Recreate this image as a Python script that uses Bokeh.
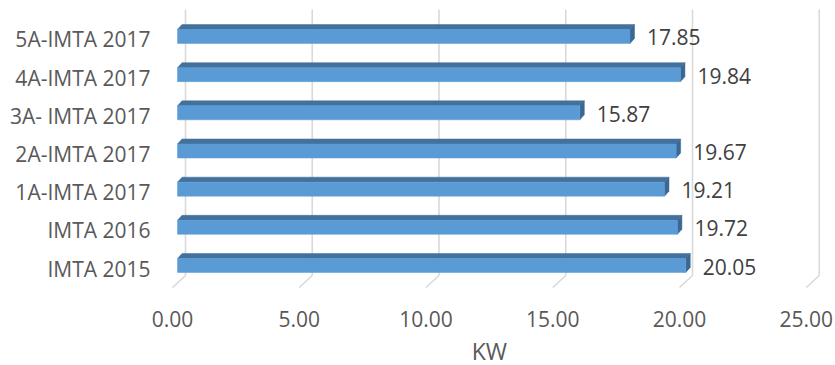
from bokeh.plotting import figure
from bokeh.models import Range1d, ColumnDataSource
from bokeh.core.properties import value
from bokeh.embed import file_html
from bokeh.resources import INLINE

# ---- data ----
categories = ["IMTA 2015", "IMTA 2016", "1A-IMTA 2017", "2A-IMTA 2017",
              "3A- IMTA 2017", "4A-IMTA 2017", "5A-IMTA 2017"]
kw_values = [20.05, 19.72, 19.21, 19.67, 15.87, 19.84, 17.85]
x_ticks = [0, 5, 10, 15, 20, 25]
x_label = "KW"

# ---- geometry / style ----
W, H = 835, 365
XPX = 25.35          # px per kW
YPX = 38.17          # px per category
x0_px = 177          # where 0 sits on the canvas
y0_px = 265.0        # centre of first category from top
xs = -x0_px / XPX
xe = xs + W / XPX
ys = -(H - y0_px) / YPX
ye = y0_px / YPX

FRONT = "#5B9BD5"
TOP = "#41719C"
SIDE = "#3B6890"
FONT = "Open Sans"
FS = "21px"

bar_h = 14 / YPX
dx = 4.5 / XPX
dy = 5 / YPX

p = figure(width=W, height=H, output_backend="svg", toolbar_location=None,
           x_range=Range1d(xs, xe), y_range=Range1d(ys, ye),
           min_border=0)
p.outline_line_color = None
p.background_fill_color = "white"
p.border_fill_color = "white"
p.xgrid.visible = False
p.ygrid.visible = False
p.xaxis.visible = False
p.yaxis.visible = False

# extra range for floor-front labels
shift_lab = 5 / XPX
p.extra_x_ranges = {"floor": Range1d(xs + shift_lab, xe + shift_lab)}

# back wall gridlines with floor perspective
back = 8 / XPX
top_y = ye - 9 / YPX
floor_back = (y0_px - 275) / YPX
floor_front = (y0_px - 287) / YPX
gx = [t + back for t in x_ticks]
p.segment(x0=gx, y0=[top_y] * len(gx), x1=gx, y1=[floor_back] * len(gx),
          line_color="#D9D9D9", line_width=1.6)
p.segment(x0=gx, y0=[floor_back] * len(gx),
          x1=[t + back - 13 / XPX for t in x_ticks], y1=[floor_front] * len(gx),
          line_color="#D9D9D9", line_width=1.6)

pos = list(range(len(categories)))
src = ColumnDataSource(dict(y=pos, v=kw_values, cat=categories,
                            lab=["%.2f" % v for v in kw_values]))

# 3-D faces
top_xs, top_ys, side_xs, side_ys = [], [], [], []
for yi, v in zip(pos, kw_values):
    yt = yi + bar_h / 2
    yb = yi - bar_h / 2
    top_xs.append([0, v, v + dx, dx])
    top_ys.append([yt, yt, yt + dy, yt + dy])
    side_xs.append([v, v + dx, v + dx, v])
    side_ys.append([yb, yb + dy, yt + dy, yt])
p.patches(xs=top_xs, ys=top_ys, fill_color=TOP, line_color=TOP, line_width=0.5)
p.patches(xs=side_xs, ys=side_ys, fill_color=SIDE, line_color=SIDE, line_width=0.5)
p.hbar(y="y", left=0, right="v", height=bar_h, source=src,
       fill_color=FRONT, line_color=FRONT, line_width=0.5)

# value labels
p.text(x="v", y="y", text="lab", source=src, x_offset=17, y_offset=1,
       text_font=value(FONT), text_font_size=FS, text_color="#404040",
       text_baseline="middle", text_align="left")

# category labels
p.text(x=(150 - x0_px) / XPX, y="y", text="cat", source=src, y_offset=3,
       text_font=value(FONT), text_font_size=FS, text_color="#595959",
       text_baseline="middle", text_align="right")

# x tick labels on the front floor edge
p.text(x=x_ticks, y=[(y0_px - 318) / YPX] * len(x_ticks),
       text=["%.2f" % t for t in x_ticks], x_range_name="floor",
       text_font=value(FONT), text_font_size=FS, text_color="#595959",
       text_baseline="middle", text_align="center")
# axis title
p.text(x=[(x_ticks[0] + x_ticks[-1]) / 2], y=[(y0_px - 350) / YPX],
       text=[x_label], x_range_name="floor",
       text_font=value(FONT), text_font_size="23px", text_color="#595959",
       text_baseline="middle", text_align="center")

open("out.html", "w").write(file_html(p, INLINE))
